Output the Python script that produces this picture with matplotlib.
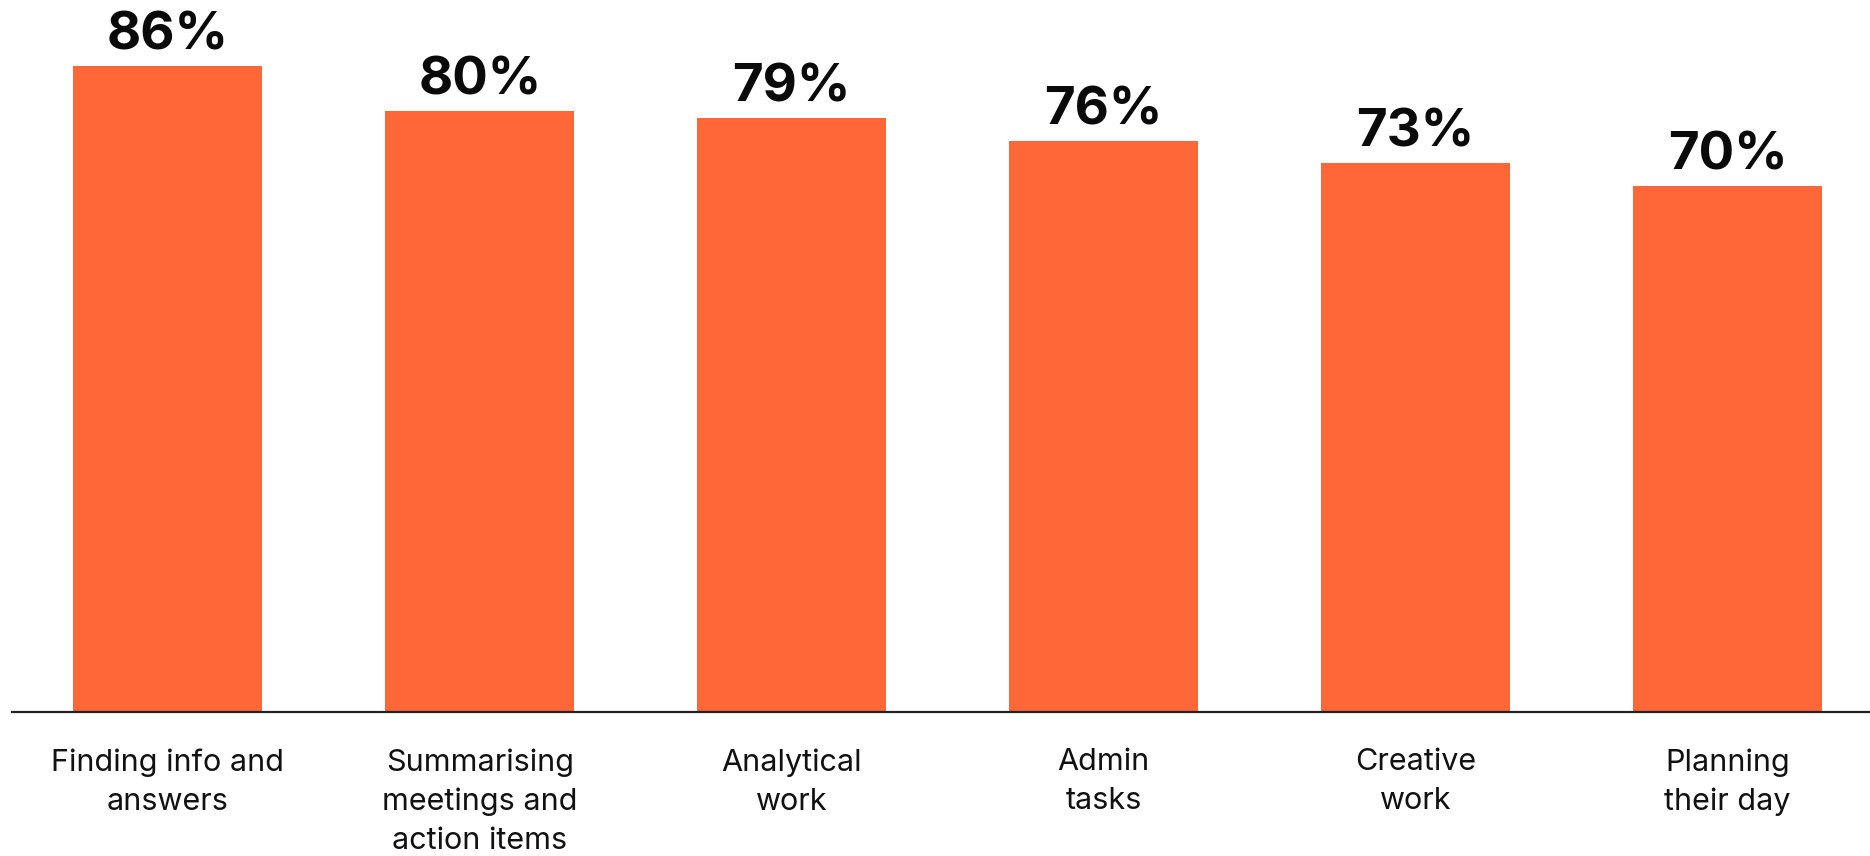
import matplotlib
matplotlib.use("Agg")
import matplotlib.pyplot as plt

# ---------------------------------------------------------------------------
# Data
# ---------------------------------------------------------------------------

categories = [
    "Finding info and\nanswers",
    "Summarising\nmeetings and\naction items",
    "Analytical\nwork",
    "Admin\ntasks",
    "Creative\nwork",
    "Planning\ntheir day",
]
values = [86, 80, 79, 76, 73, 70]

BAR_COLOR = "#FF6739"

plt.rcParams["font.family"] = ["Inter", "DejaVu Sans"]

fig = plt.figure(figsize=(18.7, 8.56), dpi=100)
ax = fig.add_axes([12 / 1870, 144 / 856, 1 - 12 / 1870, 1 - 144 / 856])

x = list(range(len(categories)))
ax.bar(x, values, width=0.606, color=BAR_COLOR, zorder=2)

for xi, v in zip(x, values):
    ax.annotate(f"{v}%", (xi, v), xytext=(0, 4), textcoords="offset points",
                ha="center", va="bottom", fontsize=38, fontweight="bold",
                color="#0a0a0a")

ax.set_xlim(-0.5, 5.457)
ax.set_ylim(0, 94.75)

ax.set_xticks(x)
ax.set_xticklabels(categories, fontsize=22, linespacing=1.5, color="#111111")
ax.tick_params(axis="x", length=0, pad=26)
ax.set_yticks([])

for side in ("top", "right", "left"):
    ax.spines[side].set_visible(False)
ax.spines["bottom"].set_linewidth(1.6)
ax.spines["bottom"].set_color("#222222")

fig.savefig("out.png", dpi=100, facecolor="white")
